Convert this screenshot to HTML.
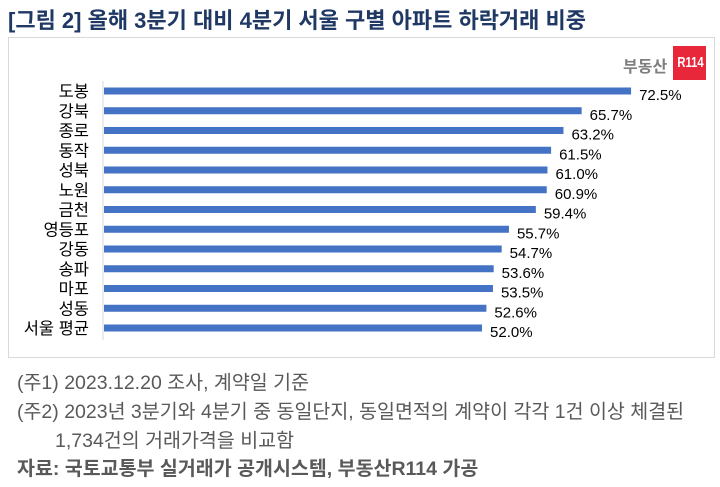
<!DOCTYPE html>
<html><head><meta charset="utf-8"><style>
body{margin:0;width:720px;height:487px;background:#fff;font-family:"Liberation Sans","Noto Sans CJK KR",sans-serif;position:relative;overflow:hidden}
.t{position:absolute;white-space:nowrap}
</style></head><body>
<div class="t" style="left:8px;top:3px;font-size:22px;font-weight:bold;color:#1f3864">[그림 2] 올해 3분기 대비 4분기 서울 구별 아파트 하락거래 비중</div>
<div style="position:absolute;left:8px;top:37px;width:707px;height:321px;border:1px solid #d9d9d9;box-sizing:border-box"></div>
<div class="t" style="left:623px;top:53px;font-size:16px;font-weight:bold;color:#7f7f7f">부동산</div>
<div class="t" style="left:673px;top:46px;width:33px;height:34px;background:#e8283a;color:#fff;font-size:15px;font-weight:bold;line-height:34px;text-align:center"><span style="display:inline-block;transform:scaleX(0.75)">R114</span></div>
<svg id="chart" width="720" height="487" style="position:absolute;left:0;top:0"></svg>
<div class="t" style="left:17px;top:366px;font-size:19.5px;color:#595959">(주1) 2023.12.20 조사, 계약일 기준</div>
<div class="t" style="left:17px;top:395px;font-size:19.5px;color:#595959">(주2) 2023년 3분기와 4분기 중 동일단지, 동일면적의 계약이 각각 1건 이상 체결된</div>
<div class="t" style="left:55px;top:424px;font-size:19.5px;color:#595959">1,734건의 거래가격을 비교함</div>
<div class="t" style="left:17px;top:452px;font-size:19.5px;font-weight:bold;color:#595959">자료: 국토교통부 실거래가 공개시스템, 부동산R114 가공</div>
<script>
const categories=["도봉","강북","종로","동작","성북","노원","금천","영등포","강동","송파","마포","성동","서울 평균"];
const values=[72.5,65.7,63.2,61.5,61.0,60.9,59.4,55.7,54.7,53.6,53.5,52.6,52.0];
const svg=document.getElementById('chart');
const NS='http://www.w3.org/2000/svg';
const x0=104,k=7.27,y0=91,step=19.75;
const xs=v=>x0+v*k, ys=i=>y0+i*step;
const ax=document.createElementNS(NS,'line');
ax.setAttribute('x1',103);ax.setAttribute('x2',103);ax.setAttribute('y1',ys(0)-10);ax.setAttribute('y2',ys(categories.length-1)+12);
ax.setAttribute('stroke','#d9d9d9');


svg.appendChild(ax);
categories.forEach((c,i)=>{
 const y=ys(i);
 const r=document.createElementNS(NS,'rect');
 r.setAttribute('x',x0);r.setAttribute('y',y-3.5);r.setAttribute('width',xs(values[i])-x0);r.setAttribute('height',7);r.setAttribute('fill','#4472c4');
 
 
 svg.appendChild(r);
 const l=document.createElementNS(NS,'text');
 l.setAttribute('x',89);l.setAttribute('y',y+6);l.setAttribute('text-anchor','end');l.setAttribute('font-size','16.5');l.setAttribute('fill','#000');l.textContent=c;
 
 
 svg.appendChild(l);
 const v=document.createElementNS(NS,'text');
 v.setAttribute('x',xs(values[i])+8);v.setAttribute('y',y+9);v.setAttribute('font-size','15');v.setAttribute('fill','#000');v.textContent=values[i].toFixed(1)+'%';
 
 
 svg.appendChild(v);
});
</script>
</body></html>
